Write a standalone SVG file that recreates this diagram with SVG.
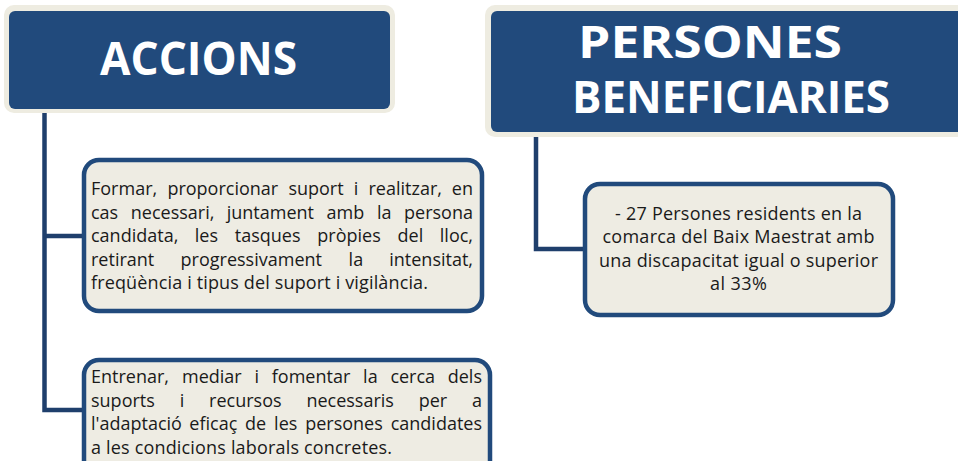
<svg xmlns="http://www.w3.org/2000/svg" width="958" height="461" viewBox="0 0 958 461">
<style>
.hdr-outer{fill:#EEECE1;}
.hdr-inner{fill:#214A7C;}
.hdr-text{font-family:"Open Sans","Liberation Sans",sans-serif;font-weight:bold;fill:#FFFFFF;}
.box{fill:#EEECE3;stroke:#214A7C;stroke-width:4.5;}
.body{font-family:"Open Sans","Liberation Sans",sans-serif;font-size:18px;fill:#1A1A1A;}
.end{text-anchor:end;}
.mid{text-anchor:middle;}
.conn{fill:none;stroke:#1F3F6C;stroke-width:4.5;stroke-linejoin:miter;}
</style>
<rect width="958" height="461" fill="#FFFFFF"/>
<g id="connectors">
<path class="conn" d="M44.5,112 V410 H84"/>
<path class="conn" d="M44.5,236 H84"/>
<path class="conn" d="M536,137 V249 H585"/>
</g>
<g id="accions">
<rect class="hdr-outer" x="4" y="5" width="391" height="108" rx="10"/>
<rect class="hdr-inner" x="9" y="11" width="381" height="98" rx="6"/>
<text class="hdr-text mid" x="198.5" y="75" font-size="46" textLength="197" lengthAdjust="spacingAndGlyphs">ACCIONS</text>
</g>
<g id="persones">
<rect class="hdr-outer" x="485" y="5" width="490" height="132" rx="10"/>
<rect class="hdr-inner" x="491" y="11" width="480" height="121" rx="6"/>
<text class="hdr-text mid" x="710" y="58" font-size="44" textLength="264" lengthAdjust="spacingAndGlyphs">PERSONES</text>
<text class="hdr-text mid" x="731" y="113" font-size="44" textLength="318" lengthAdjust="spacingAndGlyphs">BENEFICIARIES</text>
</g>
<g id="accio1">
<rect class="box" x="84" y="160" width="398" height="151" rx="15"/>
<text class="body" y="195"><tspan x="91">Formar,</tspan><tspan x="167.4">proporcionar</tspan><tspan x="288.4">suport</tspan><tspan x="353.8">i</tspan><tspan x="368.5">realitzar,</tspan></text>
<text class="body end" x="473" y="195">en</text>
<text class="body" y="218.6"><tspan x="91">cas</tspan><tspan x="130.8">necessari,</tspan><tspan x="226.7">juntament</tspan><tspan x="326.5">amb</tspan><tspan x="376.9">la</tspan></text>
<text class="body end" x="473" y="218.6">persona</text>
<text class="body" y="242.2"><tspan x="91">candidata,</tspan><tspan x="194.8">les</tspan><tspan x="234.8">tasques</tspan><tspan x="317.3">pròpies</tspan><tspan x="397.6">del</tspan></text>
<text class="body end" x="473" y="242.2">lloc,</text>
<text class="body" y="265.8"><tspan x="91">retirant</tspan><tspan x="180.6">progressivament</tspan><tspan x="348.6">la</tspan></text>
<text class="body end" x="473" y="265.8">intensitat,</text>
<text class="body" x="91" y="289.4" textLength="337" lengthAdjust="spacing">freqüència i tipus del suport i vigilància.</text>
</g>
<g id="accio2">
<rect class="box" x="84" y="360" width="406" height="130" rx="15"/>
<text class="body" y="383"><tspan x="91">Entrenar,</tspan><tspan x="182">mediar</tspan><tspan x="254.5">i</tspan><tspan x="271.8">fomentar</tspan><tspan x="363.1">la</tspan><tspan x="390.4">cerca</tspan></text>
<text class="body end" x="482" y="383">dels</text>
<text class="body" y="406.5"><tspan x="91">suports</tspan><tspan x="179.7">i</tspan><tspan x="209.1">recursos</tspan><tspan x="306.4">necessaris</tspan><tspan x="418.7">per</tspan></text>
<text class="body end" x="482" y="406.5">a</text>
<text class="body" y="430"><tspan x="91">l'adaptació</tspan><tspan x="189.3">eficaç</tspan><tspan x="245.1">de</tspan><tspan x="274.1">les</tspan><tspan x="305.2">persones</tspan></text>
<text class="body end" x="482" y="430">candidates</text>
<text class="body" x="91" y="453.5" textLength="301" lengthAdjust="spacing">a les condicions laborals concretes.</text>
</g>
<g id="beneficiaries">
<rect class="box" x="585" y="184" width="308" height="131" rx="15"/>
<text class="body mid" x="738.5" y="220" textLength="247" lengthAdjust="spacing">- 27 Persones residents en la</text>
<text class="body mid" x="738.5" y="243.3" textLength="272" lengthAdjust="spacing">comarca del Baix Maestrat amb</text>
<text class="body mid" x="738.5" y="266.7" textLength="279" lengthAdjust="spacing">una discapacitat igual o superior</text>
<text class="body mid" x="738.5" y="290" textLength="57" lengthAdjust="spacing">al 33%</text>
</g>
</svg>
